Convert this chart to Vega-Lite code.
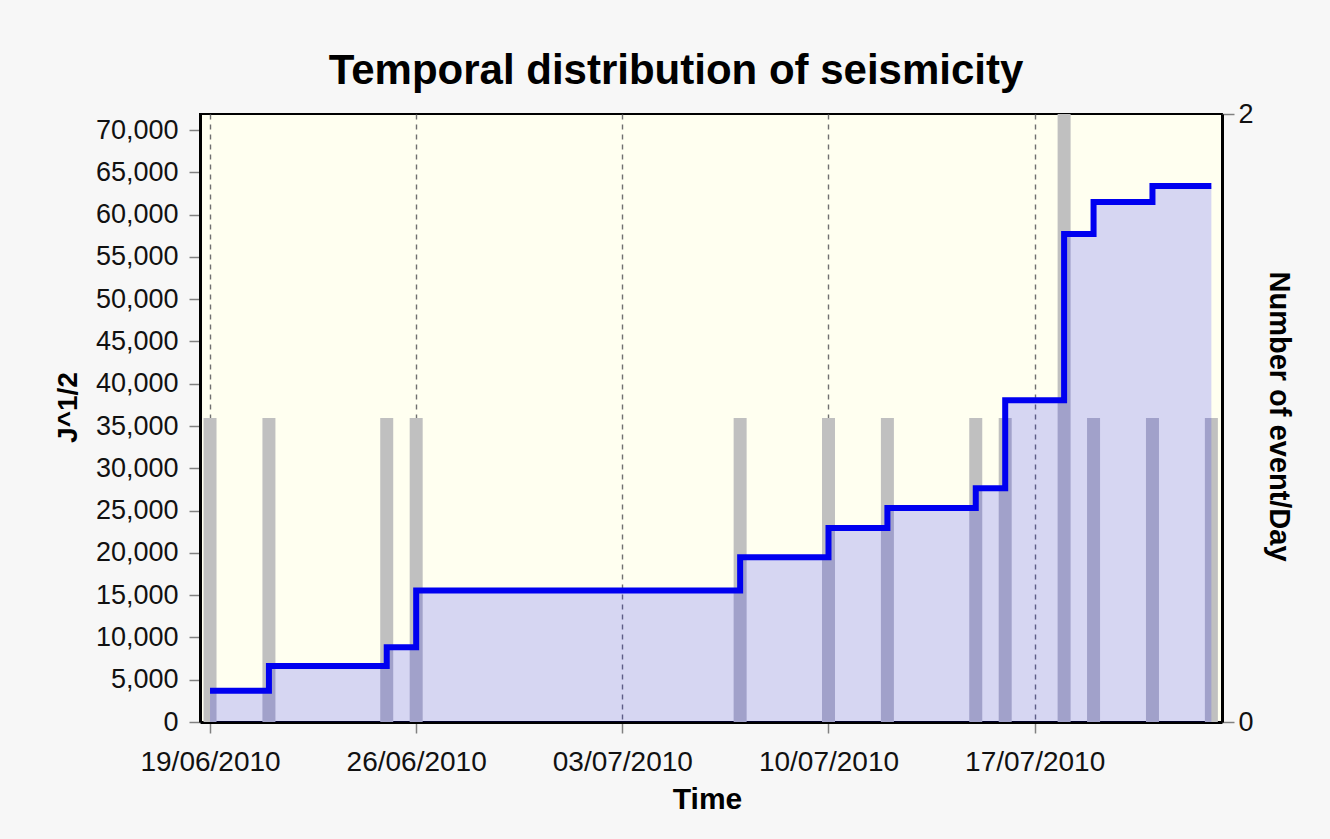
{
  "$schema": "https://vega.github.io/schema/vega-lite/v6.json",
  "width": 1022,
  "height": 608,
  "autosize": {"type": "none"},
  "padding": {"left": 200, "top": 114, "right": 108, "bottom": 117},
  "background": "#f7f7f7",
  "title": {
    "text": "Temporal distribution of seismicity",
    "font": "Liberation Sans",
    "fontSize": 42,
    "fontWeight": "bold",
    "color": "#000000",
    "baseline": "alphabetic",
    "offset": 29,
    "dx": -35,
    "dy": 55
  },
  "config": {
    "view": {"fill": "#fffff0", "stroke": "#000000", "strokeWidth": 2},
    "axis": {
      "labelFont": "Liberation Sans",
      "titleFont": "Liberation Sans",
      "labelColor": "#111111",
      "titleColor": "#000000",
      "tickColor": "#808080",
      "tickWidth": 1.5,
      "domainColor": "#000000",
      "domainWidth": 3
    }
  },
  "datasets": {
    "events": [
      {"date": "2010-06-19", "count": 1},
      {"date": "2010-06-21", "count": 1},
      {"date": "2010-06-25", "count": 1},
      {"date": "2010-06-26", "count": 1},
      {"date": "2010-07-07", "count": 1},
      {"date": "2010-07-10", "count": 1},
      {"date": "2010-07-12", "count": 1},
      {"date": "2010-07-15", "count": 1},
      {"date": "2010-07-16", "count": 1},
      {"date": "2010-07-18", "count": 2},
      {"date": "2010-07-19", "count": 1},
      {"date": "2010-07-21", "count": 1},
      {"date": "2010-07-23", "count": 1}
    ],
    "energy": [
      {"date": "2010-06-19", "j": 3700},
      {"date": "2010-06-21", "j": 6620},
      {"date": "2010-06-25", "j": 8830},
      {"date": "2010-06-26", "j": 15550},
      {"date": "2010-07-07", "j": 19470},
      {"date": "2010-07-10", "j": 22950},
      {"date": "2010-07-12", "j": 25300},
      {"date": "2010-07-15", "j": 27630},
      {"date": "2010-07-16", "j": 38050},
      {"date": "2010-07-18", "j": 57700},
      {"date": "2010-07-19", "j": 61500},
      {"date": "2010-07-21", "j": 63380},
      {"date": "2010-07-23", "j": 63380}
    ]
  },
  "encoding": {
    "x": {
      "field": "date",
      "type": "temporal",
      "scale": {
        "type": "utc",
        "padding": 0,
        "nice": false,
        "domain": [
          {"year": 2010, "month": 6, "date": 18, "hours": 15, "minutes": 50, "utc": true},
          {"year": 2010, "month": 7, "date": 23, "hours": 8, "minutes": 40, "utc": true}
        ]
      },
      "axis": {
        "title": "Time",
        "titleFontSize": 30,
        "titleFontWeight": "bold",
        "titleBaseline": "alphabetic",
        "titleY": 86,
        "titleX": 507,
        "labelExpr": "utcFormat(datum.value, '%d/%m/%Y')",
        "values": [
          {"year": 2010, "month": 6, "date": 19, "utc": true},
          {"year": 2010, "month": 6, "date": 26, "utc": true},
          {"year": 2010, "month": 7, "date": 3, "utc": true},
          {"year": 2010, "month": 7, "date": 10, "utc": true},
          {"year": 2010, "month": 7, "date": 17, "utc": true}
        ],
        "labelFontSize": 28,
        "labelPadding": 15,
        "tickSize": 11,
        "labelFlush": false,
        "labelOverlap": false,
        "grid": true,
        "gridColor": "#707070",
        "gridDash": [5, 5],
        "gridWidth": 1.4
      }
    }
  },
  "layer": [
    {
      "data": {"name": "events"},
      "mark": {"type": "bar", "width": 13, "color": "#c0c0c0"},
      "encoding": {
        "y": {
          "field": "count",
          "type": "quantitative",
          "scale": {"domain": [0, 2], "nice": false},
          "axis": {
            "orient": "right",
            "title": "Number of event/Day",
            "titleFontSize": 29,
            "titleFontWeight": "bold",
            "titleAngle": 90,
            "titleBaseline": "alphabetic",
            "titleX": 47,
            "titleY": 302,
            "values": [0, 1, 2],
            "format": "d",
            "labelFontSize": 27,
            "tickSize": 12,
            "labelPadding": 4,
            "grid": false
          }
        }
      }
    },
    {
      "data": {"name": "energy"},
      "layer": [
        {
          "mark": {"type": "area", "interpolate": "step-after", "color": "#0000ff", "fillOpacity": 0.16},
          "encoding": {
            "y": {
              "field": "j",
              "type": "quantitative",
              "scale": {"domain": [0, 71900], "nice": false},
              "axis": {
                "orient": "left",
                "title": "J^1/2",
                "titleFontSize": 28,
                "titleFontWeight": "bold",
                "titleAngle": -90,
                "titleBaseline": "alphabetic",
                "titleX": -124,
                "titleY": 293,
                "values": [0, 5000, 10000, 15000, 20000, 25000, 30000, 35000, 40000, 45000, 50000, 55000, 60000, 65000, 70000],
                "format": ",d",
                "labelFontSize": 27,
                "tickSize": 11,
                "labelPadding": 11,
                "grid": false
              }
            }
          }
        },
        {
          "mark": {"type": "line", "interpolate": "step-after", "color": "#0000f0", "strokeWidth": 6, "strokeJoin": "miter"},
          "encoding": {
            "y": {
              "field": "j",
              "type": "quantitative",
              "scale": {"domain": [0, 71900], "nice": false},
              "axis": {
                "orient": "left",
                "title": "J^1/2",
                "titleFontSize": 28,
                "titleFontWeight": "bold",
                "titleAngle": -90,
                "titleBaseline": "alphabetic",
                "titleX": -124,
                "titleY": 293,
                "values": [0, 5000, 10000, 15000, 20000, 25000, 30000, 35000, 40000, 45000, 50000, 55000, 60000, 65000, 70000],
                "format": ",d",
                "labelFontSize": 27,
                "tickSize": 11,
                "labelPadding": 11,
                "grid": false
              }
            }
          }
        }
      ]
    }
  ],
  "resolve": {"scale": {"y": "independent"}}
}
